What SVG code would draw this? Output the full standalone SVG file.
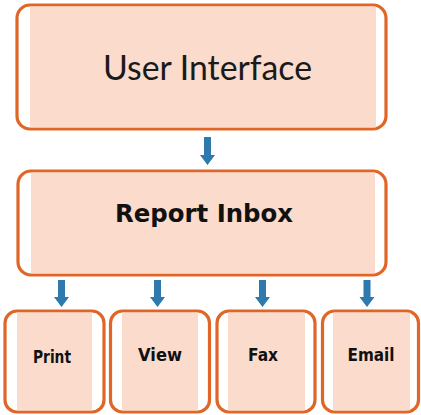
<svg xmlns="http://www.w3.org/2000/svg" width="421" height="415" viewBox="0 0 421 415">
<defs>
<style>
.frame{fill:#ffffff;stroke:#df6627;stroke-width:3.2}
.fill{fill:#fbdbcb}
.t1{font-family:Lato,"Open Sans",sans-serif;font-size:34px;fill:#1a1a1a;text-anchor:middle}
.t2{font-family:"DejaVu Sans",sans-serif;font-weight:bold;font-size:24px;fill:#111111;text-anchor:middle}
.t3{font-family:"DejaVu Sans",sans-serif;font-weight:bold;font-size:17px;fill:#111111;text-anchor:middle}
.arr{fill:#2e79ad}
</style>
</defs>
<rect width="421" height="415" fill="#ffffff"/>
<g id="user-interface">
<rect class="frame" x="17" y="5" width="369" height="124" rx="13"/>
<rect class="fill" x="30" y="6.6" width="346" height="120.8"/>
<text class="t1" x="207.5" y="80" textLength="209" lengthAdjust="spacingAndGlyphs">User Interface</text>
</g>
<g id="report-inbox">
<rect class="frame" x="18" y="171" width="368" height="104" rx="13"/>
<rect class="fill" x="31" y="172.6" width="344" height="100.8"/>
<text class="t2" x="204" y="222" textLength="178" lengthAdjust="spacingAndGlyphs">Report Inbox</text>
</g>
<g id="print">
<rect class="frame" x="5" y="311" width="99" height="101" rx="12"/>
<rect class="fill" x="17" y="312.6" width="75" height="97.8"/>
<text class="t3" x="52" y="363" textLength="38" lengthAdjust="spacingAndGlyphs">Print</text>
</g>
<g id="view">
<rect class="frame" x="110.5" y="311" width="99" height="101" rx="12"/>
<rect class="fill" x="122" y="312.6" width="76" height="97.8"/>
<text class="t3" x="160" y="361" textLength="44" lengthAdjust="spacingAndGlyphs">View</text>
</g>
<g id="fax">
<rect class="frame" x="217" y="311" width="98" height="101" rx="12"/>
<rect class="fill" x="228" y="312.6" width="77" height="97.8"/>
<text class="t3" x="263" y="361" textLength="30" lengthAdjust="spacingAndGlyphs">Fax</text>
</g>
<g id="email">
<rect class="frame" x="322.5" y="311" width="96" height="101" rx="12"/>
<rect class="fill" x="333" y="312.6" width="77" height="97.8"/>
<text class="t3" x="371" y="361" textLength="47" lengthAdjust="spacingAndGlyphs">Email</text>
</g>
<g id="connectors">
<path class="arr" d="M204,137 h7 v18 h4 l-7.5,10 l-7.5,-10 h4 z"/>
<path class="arr" d="M58,280 h7 v17 h4 l-7.5,10 l-7.5,-10 h4 z"/>
<path class="arr" d="M154,280 h7 v17 h4 l-7.5,10 l-7.5,-10 h4 z"/>
<path class="arr" d="M259,280 h7 v17 h4 l-7.5,10 l-7.5,-10 h4 z"/>
<path class="arr" d="M363.5,280 h7 v17 h4 l-7.5,10 l-7.5,-10 h4 z"/>
</g>
</svg>
